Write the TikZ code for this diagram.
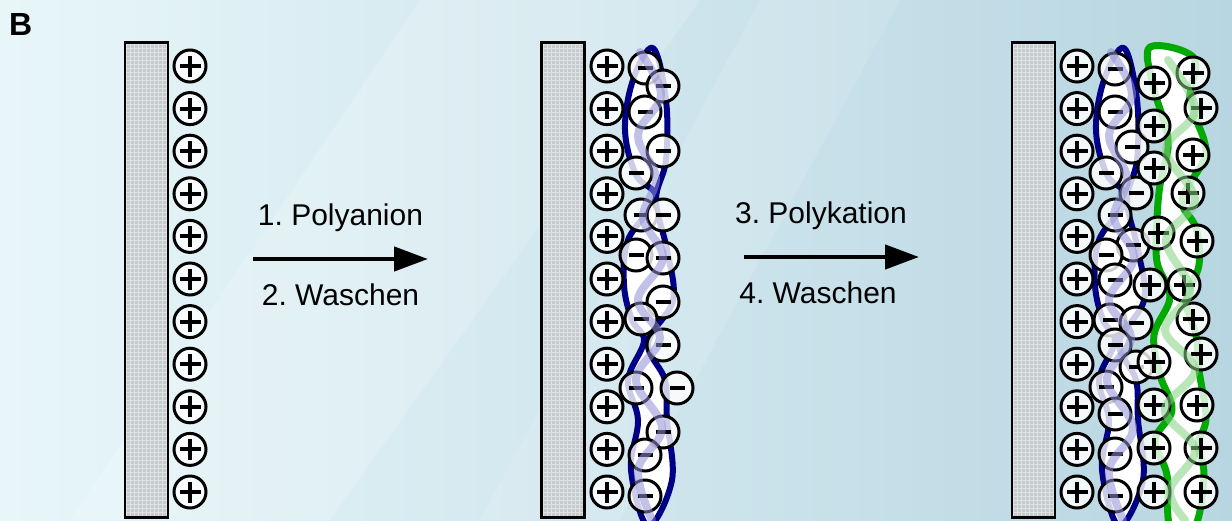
\documentclass[tikz,border=0pt]{standalone}
\usepackage{fontspec}
\setmainfont{Liberation Sans}
\usetikzlibrary{arrows.meta}
\frenchspacing

\definecolor{hgLinks}{RGB}{232,246,250}
\definecolor{hgRechts}{RGB}{184,214,225}
\definecolor{elgrau}{RGB}{198,203,206}
\definecolor{elgitter}{RGB}{222,226,228}
\definecolor{kettenblau}{RGB}{0,0,135}
\definecolor{kettengruen}{RGB}{0,170,0}
\definecolor{lavendel}{RGB}{145,145,215}
\definecolor{hellgruen}{RGB}{130,210,130}

\begin{document}
\begin{tikzpicture}[x=1pt,y=-1pt,
	electrode/.style={rectangle,draw,line width=2.8pt,fill=elgrau,inner sep=0pt,
		minimum width=43pt,minimum height=475pt,
		path picture={\draw[elgitter,line width=0.6pt] (path picture bounding box.south west)
			grid[step=4pt] (path picture bounding box.north east);}},
	ion/.style={circle,draw=black,line width=3pt,fill=white,fill opacity=0.8,
		draw opacity=1,minimum size=32pt,inner sep=0pt},
	kation/.style={ion,path picture={
		\draw[line width=4pt,black] ([xshift=-10.5pt]path picture bounding box.center) -- ([xshift=10.5pt]path picture bounding box.center);
		\draw[line width=4pt,black] ([yshift=-10.5pt]path picture bounding box.center) -- ([yshift=10.5pt]path picture bounding box.center);}},
	anion/.style={ion,path picture={
		\draw[line width=4pt,black] ([xshift=-7.5pt]path picture bounding box.center) -- ([xshift=7.5pt]path picture bounding box.center);}},
	polyanion/.style={draw=kettenblau,line width=6pt,fill=white,line join=round},
	polykation/.style={draw=kettengruen,line width=7pt,fill=white,line join=round},
	rueckseite/.style={line width=8pt,opacity=0.55,line cap=round},
	pfeil/.style={line width=4.5pt,-{Triangle[length=34pt,width=24pt]}},
	schrift/.style={font=\fontsize{30}{36}\selectfont,anchor=base,inner sep=0pt}]

	\useasboundingbox (0,0) rectangle (1232,520);
	\clip (0,0) rectangle (1232,520);

	% background
	\shade[left color=hgLinks,right color=hgRechts] (0,0) rectangle (1232,520);
	\fill[white,opacity=0.18] (420,0) -- (700,0) -- (330,520) -- (70,520) -- cycle;
	\fill[white,opacity=0.12] (760,0) -- (900,0) -- (620,520) -- (480,520) -- cycle;

	\node[font=\fontsize{32}{36}\selectfont\bfseries,anchor=base west,inner sep=0pt] (lbl) at (9,35) {B};

	% electrodes
	\node[electrode] (el1) at (146.5,280) {};
	\node[electrode] (el2) at (563,280) {};
	\node[electrode] (el3) at (1033.5,280) {};

	% polyanion chain, step 2 and 3
	\foreach \dx in {0,471}{
		\draw[polyanion,xshift=\dx] plot[smooth cycle,tension=0.6] coordinates {
			(653,48) (633,80) (625,130) (636,175) (656,198) (628,240) (624,285)
			(632,320) (644,341) (628,380) (638,420) (631,470) (648,526)
			(672,480) (667,420) (665,380) (648,343) (673,300) (667,250)
			(656,200) (666,160) (666,100)};
	}

	% polykation chain, step 3
	\draw[polykation] plot[smooth cycle,tension=0.6] coordinates {
		(1150,47) (1153,85) (1165,125) (1168,148) (1160,185) (1157,220) (1157,262)
		(1170,297) (1154,335) (1160,375) (1172,410) (1155,440) (1167,475) (1170,526)
		(1195,526) (1204,475) (1198,445) (1206,418) (1199,370) (1196,335)
		(1186,300) (1199,265) (1196,228) (1182,200) (1204,160) (1204,140)
		(1190,100) (1194,58)};

	% surface charges
	\foreach \n in {1,...,11}{
		\node[kation] (k1-\n) at (190,{66+42.6*(\n-1)}) {};
		\node[kation] (k2-\n) at (607,{66+42.6*(\n-1)}) {};
		\node[kation] (k3-\n) at (1077,{66+42.6*(\n-1)}) {};
	}

	% first layer
	\foreach \x/\y [count=\n] in {645/68,663/86,645/112,663/151,636/173,641/215,
		663/215,636/255,663/258,663/302,641/319,663/345,636/388,677/388,
		663/432,645/455,645/496}{
		\node[anion] (a2-\n) at (\x,\y) {};
	}
	\foreach \x/\y [count=\n] in {1115/69,1115/112,1132/147,1106/173,1136/193,
		1115/215,1133/245,1106/255,1115/280,1110/320,1136/323,1115/345,
		1136/367,1106/387,1115/414,1115/454,1115/496}{
		\node[anion] (a3-\n) at (\x,\y) {};
	}

	% second layer
	\foreach \x/\y [count=\n] in {1154/83,1193/73,1201/108,1154/126,1193/155,
		1154/168,1188/193,1158/233,1197/241,1150/285,1184/285,1193/319,
		1201/354,1154/362,1154/405,1197/405,1154/448,1201/448,1154/492,1201/492}{
		\node[kation] (g3-\n) at (\x,\y) {};
	}

	% back side of the chains
	\foreach \dx in {0,471}{
		\draw[rueckseite,lavendel,xshift=\dx] plot[smooth,tension=0.6] coordinates {
			(640,52) (661,95) (638,135) (656,178) (643,218) (663,258) (638,300)
			(660,338) (636,380) (662,428) (638,470) (652,520)};
	}
	\draw[rueckseite,hellgruen] plot[smooth,tension=0.6] coordinates {
		(1168,60) (1195,110) (1166,150) (1195,200) (1166,240) (1190,290)
		(1165,330) (1195,370) (1165,410) (1195,450) (1170,490) (1185,520)};

	% process steps
	\coordinate (s1) at (253,259);
	\coordinate (z1) at (428,259);
	\coordinate (s2) at (744,257);
	\coordinate (z2) at (919,257);
	\draw[pfeil] (s1) -- (z1);
	\draw[pfeil] (s2) -- (z2);

	\node[schrift] (t1) at (340.5,225) {1. Polyanion};
	\node[schrift] (t2) at (340.5,305) {2. Waschen};
	\node[schrift] (t3) at (821,223) {3. Polykation};
	\node[schrift] (t4) at (818,303) {4. Waschen};
\end{tikzpicture}
\end{document}
